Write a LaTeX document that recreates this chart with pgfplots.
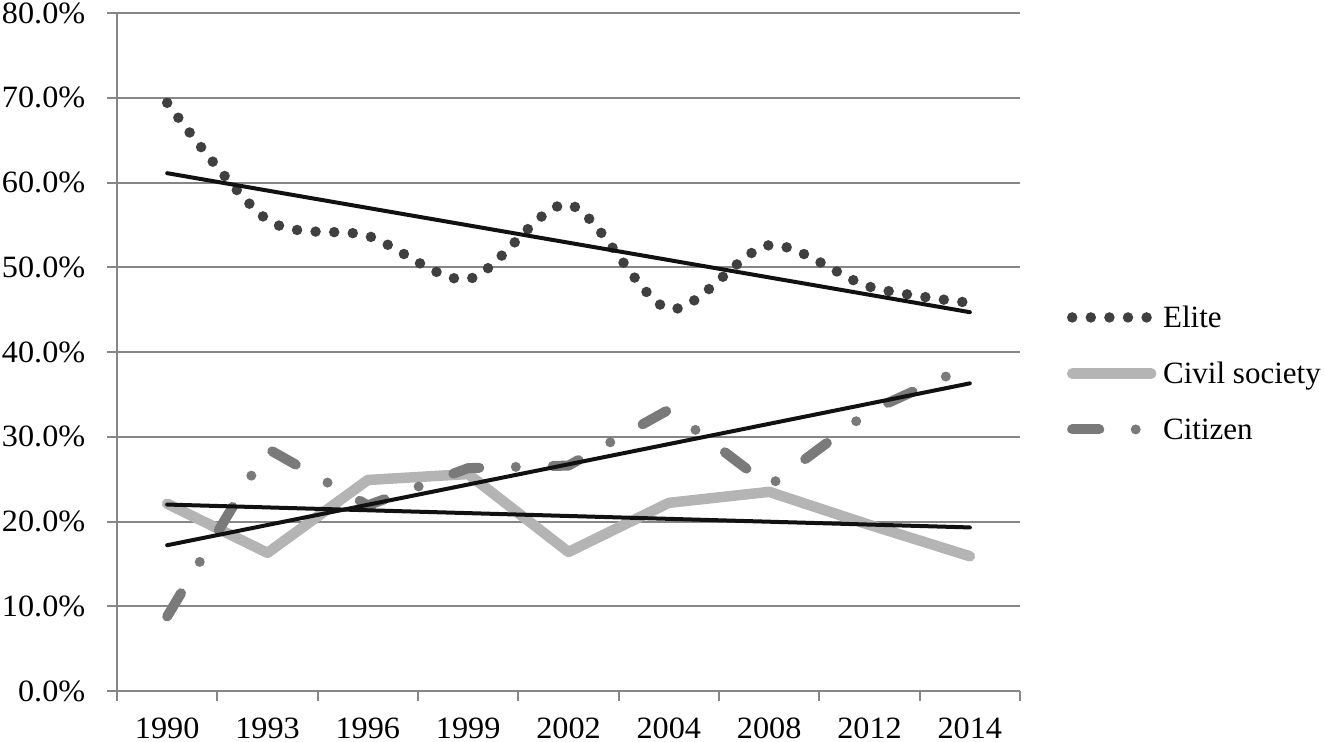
\documentclass[border=0pt]{standalone}
\usepackage{fontspec}
\setmainfont{Liberation Serif}
\newfontfamily\tickfont{Liberation Serif}[FakeStretch=1.04]
\usepackage{pgfplots}
\pgfplotsset{compat=1.18}
\definecolor{gridgray}{HTML}{868686}
\definecolor{elitec}{HTML}{404040}
\definecolor{civilc}{HTML}{B4B4B4}
\definecolor{citizc}{HTML}{7A7A7A}
\definecolor{trendc}{HTML}{111111}
\pgfplotsset{legend image code/.code={\draw[#1] (0pt,2pt) -- (39.5pt,2pt);}}
\begin{document}
\fontsize{15.5pt}{18pt}\selectfont
\begin{tikzpicture}
\path[use as bounding box] (-58.5pt,-25.5pt) rectangle (604pt,345.5pt);
\begin{axis}[
  scale only axis, width=451.5pt, height=339pt,
  xmin=-0.5, xmax=8.5, ymin=0, ymax=80,
  axis lines*=left,
  axis line style={draw=gridgray, line width=1pt},
  ymajorgrids, grid style={draw=gridgray, line width=1pt},
  ytick={0,10,...,80},
  yticklabels={0.0\%,10.0\%,20.0\%,30.0\%,40.0\%,50.0\%,60.0\%,70.0\%,80.0\%},
  xtick={0,...,8},
  xticklabels={1990,1993,1996,1999,2002,2004,2008,2012,2014},
  minor xtick={-0.5,0.5,...,8.5},
  tick align=outside, major tick length=5pt, minor tick length=5pt,
  every tick/.style={draw=gridgray, line width=1pt},
  major x tick style={draw=none},
  ticklabel style={font=\tickfont\fontsize{15.5pt}{18pt}\selectfont},
  yticklabel style={xshift=-5.5pt},
  xticklabel style={yshift=-3pt},
  clip=false,
  legend style={at={(1.052,0.4625)}, anchor=west, draw=none, fill=none,
    inner sep=0pt, outer sep=0pt, row sep=14.5pt, column sep=3.35pt,
    font=\fontsize{15.5pt}{18pt}\selectfont,
    nodes={inner sep=0pt, text height=10pt, text depth=3.5pt}},
  legend cell align=left,
]
\addplot[elitec, line width=5.25pt, line cap=round, dash pattern=on 0pt off 9.3pt, smooth, tension=0.5]
  coordinates {(0,69.4) (1,55.6) (2,53.7) (3,48.6) (4,57.4) (5,45.1) (6,52.6) (7,47.7) (8,45.8)};
\addlegendentry{Elite}
\addplot[civilc, line width=5.25pt, line cap=round, line join=round]
  coordinates {(0,22.1) (1,16.3) (2,24.9) (3,25.6) (4,16.4) (5,22.2) (6,23.5) (7,19.6) (8,15.9)};
\addlegendentry{Civil society}
\addplot[citizc, line width=5pt, line cap=round, line join=round,
  dash pattern=on 13.5pt off 18.25pt on 0pt off 18.5pt]
  coordinates {(0,8.8) (1,28.6) (2,21.9) (3,26.3) (4,26.6) (5,33.2) (6,24.2) (7,33.0) (8,38.4)};
\addlegendentry{Citizen}
\addplot[trendc, line width=2pt, line cap=round, forget plot] coordinates {(0,61.1) (8,44.7)};
\addplot[trendc, line width=2pt, line cap=round, forget plot] coordinates {(0,22.0) (8,19.3)};
\addplot[trendc, line width=2pt, line cap=round, forget plot] coordinates {(0,17.2) (8,36.3)};
\end{axis}
\end{tikzpicture}
\end{document}
